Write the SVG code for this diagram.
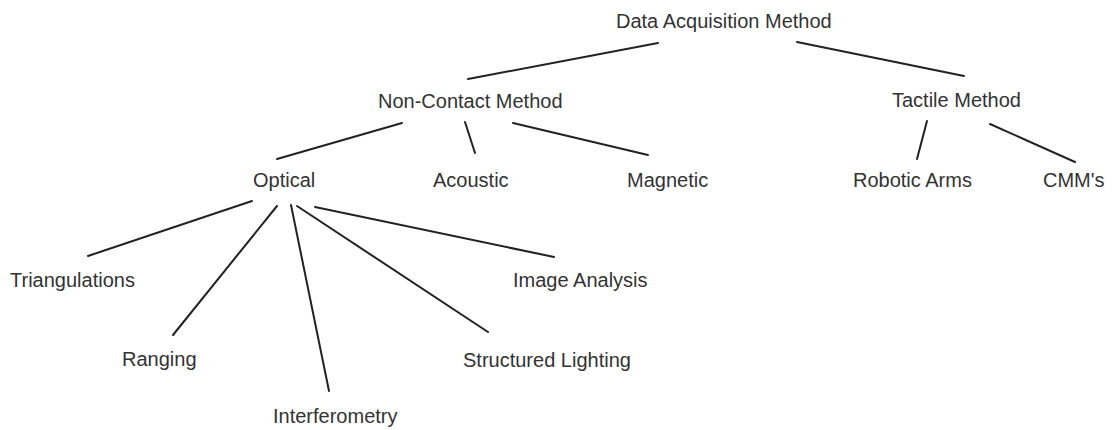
<svg xmlns="http://www.w3.org/2000/svg" width="1113" height="430" viewBox="0 0 1113 430">
  <style>
    .lbl { font-family: "Liberation Sans", Arial, sans-serif; font-size: 20px; fill: #333; }
    .edge { stroke: #222; stroke-width: 2; stroke-linecap: round; fill: none; }
  </style>
  <rect width="1113" height="430" fill="#fff"/>
  <g id="connectors">
    <line class="edge" x1="658" y1="43" x2="468" y2="79"/>
    <line class="edge" x1="797" y1="42" x2="964" y2="76"/>
    <line class="edge" x1="402" y1="123" x2="277" y2="159"/>
    <line class="edge" x1="465" y1="122" x2="475" y2="153"/>
    <line class="edge" x1="513" y1="123" x2="648" y2="155"/>
    <line class="edge" x1="927" y1="121" x2="917" y2="159"/>
    <line class="edge" x1="990" y1="124" x2="1075" y2="162"/>
    <line class="edge" x1="252" y1="201" x2="88" y2="256"/>
    <line class="edge" x1="277" y1="206" x2="173" y2="335"/>
    <line class="edge" x1="291" y1="205" x2="329" y2="391"/>
    <line class="edge" x1="297" y1="206" x2="488" y2="332"/>
    <line class="edge" x1="315" y1="207" x2="554" y2="257"/>
  </g>
  <g id="data-acquisition"><text class="lbl" x="616" y="28">Data Acquisition Method</text></g>
  <g id="non-contact"><text class="lbl" x="378" y="108">Non-Contact Method</text></g>
  <g id="tactile"><text class="lbl" x="892" y="107">Tactile Method</text></g>
  <g id="optical"><text class="lbl" x="253" y="187">Optical</text></g>
  <g id="acoustic"><text class="lbl" x="433" y="187">Acoustic</text></g>
  <g id="magnetic"><text class="lbl" x="627" y="187">Magnetic</text></g>
  <g id="robotic-arms"><text class="lbl" x="853" y="187">Robotic Arms</text></g>
  <g id="cmms"><text class="lbl" x="1043" y="187">CMM's</text></g>
  <g id="triangulations"><text class="lbl" x="10" y="287">Triangulations</text></g>
  <g id="image-analysis"><text class="lbl" x="513" y="287">Image Analysis</text></g>
  <g id="ranging"><text class="lbl" x="122" y="366">Ranging</text></g>
  <g id="structured-lighting"><text class="lbl" x="463" y="367">Structured Lighting</text></g>
  <g id="interferometry"><text class="lbl" x="273" y="423">Interferometry</text></g>
</svg>
